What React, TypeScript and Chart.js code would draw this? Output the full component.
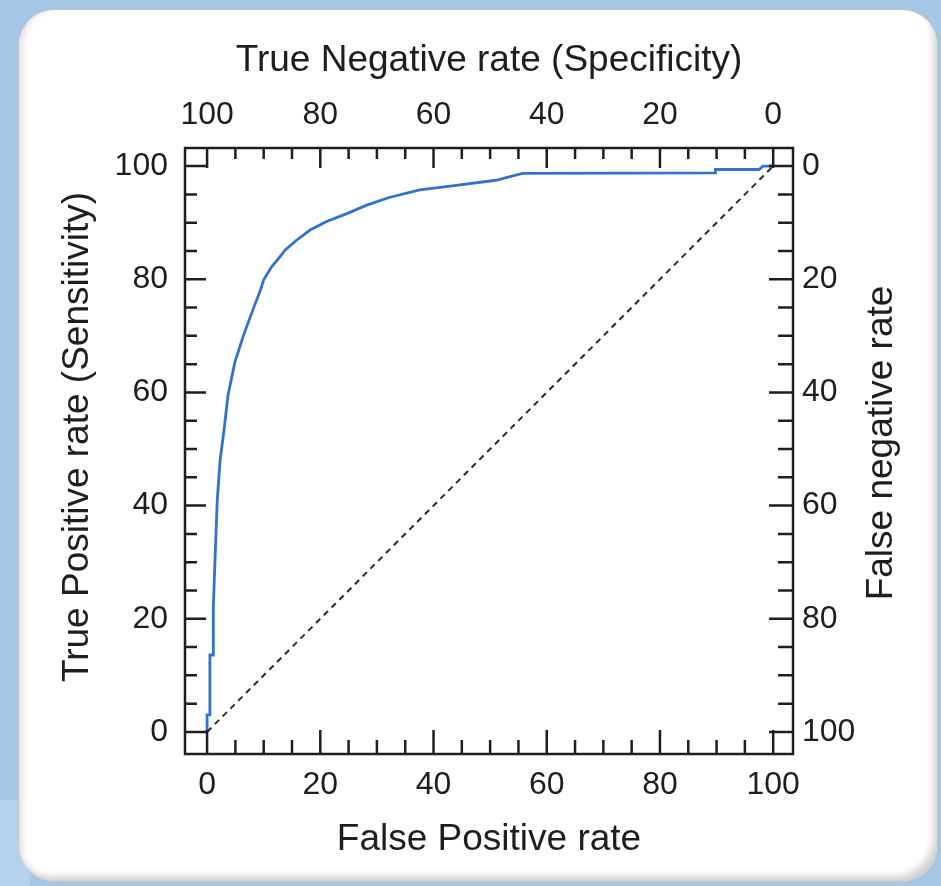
import React, { useEffect, useRef } from "react";
import { Chart, registerables } from "chart.js";

Chart.register(...registerables);

// ---- data ----
const fpr = [0, 0, 0.5, 0.5, 1.1, 1.1, 1.4, 1.8, 2.3, 3.0, 3.7, 4.9, 6.4, 8.2, 9.4, 10.0, 11.4, 12.9, 13.8, 15.8, 18.2, 21.1, 24.7, 28.2, 32.3, 37.6, 44.0, 51.0, 55.7, 89.8, 89.8, 97.5, 98.2, 100];
const tpr = [0, 3, 3, 13.6, 13.6, 22, 30.4, 41, 48, 53.4, 59.5, 65.3, 70, 74.9, 78, 79.9, 82.2, 84, 85.2, 86.9, 88.7, 90.2, 91.6, 93.1, 94.5, 95.8, 96.6, 97.5, 98.7, 98.8, 99.4, 99.4, 100, 100];
const diagX = [0, 100];
const diagY = [0, 100];
const majorTicks = [0, 20, 40, 60, 80, 100];
const allTicks = [0, 5, 10, 15, 20, 25, 30, 35, 40, 45, 50, 55, 60, 65, 70, 75, 80, 85, 90, 95, 100];
const titleBottom = "False Positive rate";
const titleTop = "True Negative rate (Specificity)";
const titleLeft = "True Positive rate (Sensitivity)";
const titleRight = "False negative rate";

// ---- style ----
const FONT = "'Liberation Sans', Arial, sans-serif";
const TEXT = "#1e1e1e";
const X_MIN = -3.9, X_MAX = 103.5, Y_MIN = -3.9, Y_MAX = 103.2;

const tickFont = { family: FONT, size: 32 };
const titleFont = { family: FONT, size: 37 };

const framePlugin = {
  id: "frameTicks",
  afterDatasetsDraw(chart: any) {
    const { ctx, chartArea: a, scales } = chart;
    ctx.save();
    ctx.strokeStyle = TEXT;
    ctx.lineWidth = 2.5;
    ctx.lineCap = "butt";
    ctx.strokeRect(a.left, a.top, a.right - a.left, a.bottom - a.top);
    ctx.beginPath();
    for (const v of allTicks) {
      const major = v % 20 === 0;
      const px = scales.x.getPixelForValue(v);
      const py = scales.y.getPixelForValue(v);
      // bottom
      ctx.moveTo(px, a.bottom);
      ctx.lineTo(px, a.bottom - (major ? 24 : 14));
      // top
      ctx.moveTo(px, a.top);
      ctx.lineTo(px, a.top + (major ? 20 : 11));
      // left
      ctx.moveTo(a.left, py);
      ctx.lineTo(a.left + (major ? 21 : 12), py);
      // right
      ctx.moveTo(a.right, py);
      ctx.lineTo(a.right - (major ? 24 : 15), py);
    }
    ctx.stroke();
    ctx.restore();
  },
  afterDraw(chart: any) {
    const { ctx, chartArea: a } = chart;
    const midY = (a.top + a.bottom) / 2;
    ctx.save();
    ctx.font = `37px ${FONT}`;
    ctx.fillStyle = TEXT;
    ctx.textAlign = "center";
    ctx.textBaseline = "middle";
    const draw = (t: string, x: number, y: number) => {
      ctx.save();
      ctx.translate(x, y);
      ctx.rotate(-Math.PI / 2);
      ctx.fillText(t, 0, 0);
      ctx.restore();
    };
    draw(titleLeft, a.left - 107, midY - 14);
    draw(titleRight, a.right + 89, midY - 8);
    ctx.restore();
  },
};

const setMajor = (s: any) => {
  s.ticks = majorTicks.map((value) => ({ value }));
};

export default function App() {
  const ref = useRef<HTMLCanvasElement | null>(null);

  useEffect(() => {
    if (!ref.current) return;
    const common = {
      grid: { display: false, drawTicks: false },
      border: { display: false },
      afterBuildTicks: setMajor,
    };
    const chart = new Chart(ref.current, {
      type: "scatter",
      data: {
        datasets: [
          {
            label: "chance",
            data: diagX.map((x, i) => ({ x, y: diagY[i] })),
            showLine: true,
            borderColor: "#2a2a2a",
            borderWidth: 2,
            borderDash: [6, 5],
            pointRadius: 0,
          },
          {
            label: "ROC",
            data: fpr.map((x, i) => ({ x, y: tpr[i] })),
            showLine: true,
            borderColor: "#3272cc",
            borderWidth: 2.8,
            pointRadius: 0,
            tension: 0,
          },
        ],
      },
      options: {
        animation: false,
        responsive: false,
        devicePixelRatio: 1,
        layout: { padding: 0 },
        plugins: { legend: { display: false }, tooltip: { enabled: false } },
        scales: {
          x: {
            ...common,
            type: "linear",
            axis: "x",
            position: "bottom",
            min: X_MIN,
            max: X_MAX,
            afterFit: (s: any) => { s.height = 132; },
            ticks: { padding: 12, font: tickFont, color: TEXT, autoSkip: false, maxRotation: 0, callback: (v: any) => String(v) },
            title: { display: true, text: titleBottom, font: titleFont, color: TEXT, padding: { top: 0, bottom: 24 } },
          },
          x2: {
            ...common,
            type: "linear",
            axis: "x",
            position: "top",
            min: X_MIN,
            max: X_MAX,
            afterFit: (s: any) => { s.height = 148; },
            ticks: { padding: 14, font: tickFont, color: TEXT, autoSkip: false, maxRotation: 0, callback: (v: any) => String(100 - v) },
            title: { display: true, text: titleTop, font: titleFont, color: TEXT, padding: { top: 39, bottom: 0 } },
          },
          y: {
            ...common,
            type: "linear",
            axis: "y",
            position: "left",
            min: Y_MIN,
            max: Y_MAX,
            afterFit: (s: any) => { s.width = 185; },
            ticks: { padding: 17, font: tickFont, color: TEXT, autoSkip: false, callback: (v: any) => String(v) },
          },
          y2: {
            ...common,
            type: "linear",
            axis: "y",
            position: "right",
            min: Y_MIN,
            max: Y_MAX,
            afterFit: (s: any) => { s.width = 148; },
            ticks: { padding: 9, font: tickFont, color: TEXT, autoSkip: false, callback: (v: any) => String(100 - v) },
          },
        },
      } as any,
      plugins: [framePlugin],
    });
    return () => chart.destroy();
  }, []);

  return (
    <div style={{ position: "fixed", left: 0, top: 0, width: 941, height: 886, background: "#a6c6e6", overflow: "hidden" }}>
      <div style={{ position: "absolute", left: 0, top: 800, width: 30, height: 86, background: "#b4d1ee" }} />
      <div
        style={{
          position: "absolute",
          left: 18,
          top: 9,
          width: 920,
          height: 873,
          boxSizing: "border-box",
          background: "#ffffff",
          borderRadius: 36,
          border: "1px solid #c4c4c4",
          boxShadow: "inset -8px -9px 8px -5px rgba(0,0,0,0.2), inset 7px 0 7px -4px rgba(0,0,0,0.14)",
        }}
      />
      <canvas ref={ref} width={941} height={886} style={{ position: "absolute", left: 0, top: 0, display: "block" }} />
    </div>
  );
}
